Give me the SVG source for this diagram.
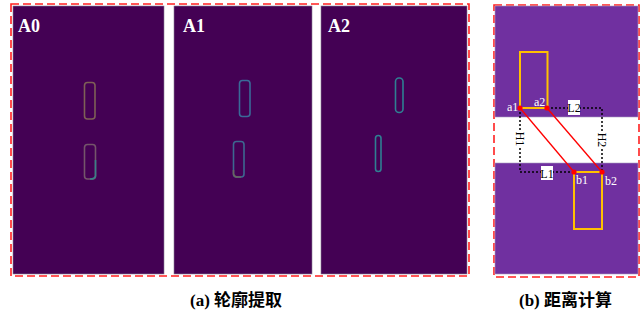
<svg xmlns="http://www.w3.org/2000/svg" width="644" height="320" viewBox="0 0 644 320">
<style>
.panel{fill:#440154;stroke:#8a7f95;stroke-width:0.6}
.frame{fill:none;stroke:#ff2020;stroke-width:1.6;stroke-dasharray:8 4}
.plab{font-family:"Liberation Serif",serif;font-weight:bold;font-size:18px;fill:#ffffff}
.ct{fill:none;stroke-width:1.6}
.purp{fill:#7030a0;stroke:#a79bc0;stroke-width:0.6}
.orng{fill:none;stroke:#ffc000;stroke-width:2}
.dot{fill:none;stroke:#000;stroke-width:1.5;stroke-dasharray:2 2}
.red{stroke:#ff0000;stroke-width:1.3;fill:none}
.pt{fill:#ff0000}
.lab{font-family:"Liberation Serif",serif;font-size:12px}
.cap{font-family:"Liberation Serif","Noto Sans CJK SC",serif;font-weight:bold;font-size:17px;fill:#000}
</style>
<rect width="644" height="320" fill="#ffffff"/>
<g id="panel-a">
  <rect class="frame" x="11" y="4" width="458" height="272"/>
  <g id="A0">
    <rect class="panel" x="13" y="6" width="151" height="268"/>
    <text class="plab" x="18" y="32">A0</text>
    <rect class="ct" x="84.5" y="82.5" width="10.5" height="36.5" rx="3" stroke="#7e6056"/>
    <rect class="ct" x="84.5" y="144.5" width="11" height="34.5" rx="3" stroke="#74566a"/>
    <path class="ct" d="M95.5 160 L95.5 176 Q95 179 90 179" stroke="#3a8088"/>
  </g>
  <g id="A1">
    <rect class="panel" x="174" y="6" width="138" height="268"/>
    <text class="plab" x="183" y="32">A1</text>
    <rect class="ct" x="239.5" y="80.5" width="10.5" height="36" rx="3" stroke="#3a6a98"/>
    <rect class="ct" x="233.5" y="141.5" width="10.5" height="35.5" rx="3" stroke="#3d6890"/>
    <path class="ct" d="M233.5 170 L233.5 174 Q234 177 238 177 L241 177" stroke="#6a6660"/>
  </g>
  <g id="A2">
    <rect class="panel" x="321" y="6" width="146" height="268"/>
    <text class="plab" x="328" y="32">A2</text>
    <rect class="ct" x="395.5" y="78" width="7.5" height="34.5" rx="3.5" stroke="#2f7f92"/>
    <rect class="ct" x="375.5" y="135.5" width="5.5" height="36" rx="2.7" stroke="#2f7f92"/>
  </g>
</g>
<g id="panel-b">
  <rect class="frame" x="494" y="5" width="145" height="272"/>
  <rect class="purp" x="495" y="6" width="143" height="111"/>
  <rect class="purp" x="495" y="163" width="143" height="111"/>
  <g id="top-block"><rect class="orng" x="520" y="52" width="27.5" height="56"/></g>
  <g id="bottom-block"><rect class="orng" x="574" y="172" width="28" height="57"/></g>
  <g id="connectors">
    <path class="dot" d="M547 108 H602 V172"/>
    <path class="dot" d="M520 108 V172 H574"/>
    <line class="red" x1="520" y1="108" x2="574" y2="172"/>
    <line class="red" x1="547" y1="108" x2="602" y2="172"/>
  </g>
  <g id="points">
    <circle class="pt" cx="520" cy="108" r="2.6"/>
    <circle class="pt" cx="547" cy="108" r="2.6"/>
    <circle class="pt" cx="574" cy="172" r="2.6"/>
    <circle class="pt" cx="602" cy="172" r="2.6"/>
  </g>
  <g id="labels">
    <text class="lab" x="507" y="111" fill="#ffffff">a1</text>
    <text class="lab" x="534" y="106" fill="#ffffff">a2</text>
    <text class="lab" x="576" y="184" fill="#ffffff">b1</text>
    <text class="lab" x="605" y="185" fill="#ffffff">b2</text>
    <rect x="568" y="100" width="12" height="15" fill="#ffffff"/>
    <text class="lab" x="574" y="112" text-anchor="middle" fill="#000">L2</text>
    <rect x="541" y="166" width="12" height="14" fill="#ffffff"/>
    <text class="lab" x="547" y="177.5" text-anchor="middle" fill="#000">L1</text>
    <rect x="514" y="131" width="12" height="16" fill="#ffffff"/>
    <text class="lab" transform="translate(516,139) rotate(90)" text-anchor="middle" fill="#000">H1</text>
    <rect x="596" y="131" width="12" height="17" fill="#ffffff"/>
    <text class="lab" transform="translate(598,140) rotate(90)" text-anchor="middle" fill="#000">H2</text>
  </g>
</g>
<text class="cap" x="190" y="306">(a) 轮廓提取</text>
<text class="cap" x="519" y="306">(b) 距离计算</text>
</svg>
